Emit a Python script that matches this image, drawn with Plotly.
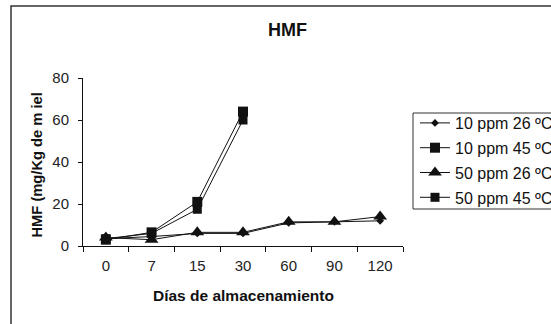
import plotly.graph_objects as go

# Data
dias = ["0", "7", "15", "30", "60", "90", "120"]
ppm10_26 = [3.5, 4.5, 6, 6, 11, 11.5, 12]
ppm10_45 = [3, 6.5, 21, 64]
ppm50_26 = [4, 3, 6.5, 6.5, 11.5, 11.5, 14]
ppm50_45 = [3.5, 6, 17.5, 60]
nombres = ["10 ppm 26 ºC", "10 ppm 45 ºC", "50 ppm 26 ºC", "50 ppm 45 ºC"]

FONT = "Liberation Sans, Arial, sans-serif"
INK = "#111111"

W, H = 551, 324
L, R, T, B = 83, 403, 78, 246  # plot area in px

def px_x(px):
    return (px - L) / (R - L)

def px_y(py):
    return (B - py) / (B - T)

fig = go.Figure()
series = [
    (ppm10_26, nombres[0], "diamond", 6),
    (ppm10_45, nombres[1], "square", 10),
    (ppm50_26, nombres[2], "triangle-up", 12),
    (ppm50_45, nombres[3], "square", 9),
]
for i, (vals, name, sym, size) in enumerate(series):
    fig.add_trace(go.Scatter(
        x=dias[:len(vals)], y=vals, name=name, mode="lines+markers",
        line=dict(color=INK, width=1),
        marker=dict(symbol=sym, size=size, color=INK, line=dict(width=0)),
        legendgroup=f"g{i}", cliponaxis=False,
    ))

fig.update_layout(
    width=W, height=H,
    margin=dict(l=L, r=W - R, t=T, b=H - B, pad=0, autoexpand=False),
    paper_bgcolor="white", plot_bgcolor="white",
    font=dict(family=FONT, size=15, color=INK),
    showlegend=True,
    legend=dict(x=px_x(415), y=px_y(106), xanchor="left", yanchor="top",
                bgcolor="rgba(0,0,0,0)", borderwidth=0, itemwidth=30,
                tracegroupgap=1, font=dict(size=16, family=FONT, color=INK)),
    xaxis=dict(type="category", categoryorder="array", categoryarray=dias,
               range=[-0.5, 6.5], showline=True, linecolor=INK, linewidth=1,
               ticks="outside", tickson="boundaries", ticklen=5, tickcolor=INK,
               ticklabelstandoff=6,
               showgrid=False, zeroline=False, tickfont=dict(size=15, color="#222")),
    yaxis=dict(range=[0, 80], dtick=20, showline=True, linecolor=INK, linewidth=1,
               ticks="outside", ticklen=4, tickcolor=INK, showgrid=False,
               ticklabelstandoff=6,
               zeroline=False, tickfont=dict(size=15, color="#222")),
    shapes=[
        dict(type="rect", xref="paper", yref="paper",
             x0=px_x(11), x1=px_x(640), y0=px_y(420), y1=px_y(6),
             line=dict(color="#333", width=1.5), fillcolor="rgba(0,0,0,0)"),
        dict(type="rect", xref="paper", yref="paper",
             x0=px_x(413), x1=px_x(640), y0=px_y(209), y1=px_y(113),
             line=dict(color="#333", width=1), fillcolor="rgba(0,0,0,0)"),
    ],
    annotations=[
        dict(text="<b>HMF</b>", xref="paper", yref="paper", x=px_x(287), y=px_y(30),
             xanchor="center", yanchor="middle",
             showarrow=False, font=dict(size=18, family=FONT, color=INK)),
        dict(text="<b>Días de almacenamiento</b>", xref="paper", yref="paper",
             x=px_x(243), y=px_y(295), xanchor="center", yanchor="middle",
             showarrow=False, font=dict(size=15.5, family=FONT, color=INK)),
        dict(text="<b>HMF (mg/Kg de m iel</b>", xref="paper", yref="paper",
             x=px_x(36.5), y=px_y(165), xanchor="center", yanchor="middle",
             showarrow=False, textangle=-90,
             font=dict(size=14.7, family=FONT, color=INK)),
    ],
)

fig.write_html("out.html", post_script="document.body.style.margin='0px';",
               config={"displayModeBar": False})
